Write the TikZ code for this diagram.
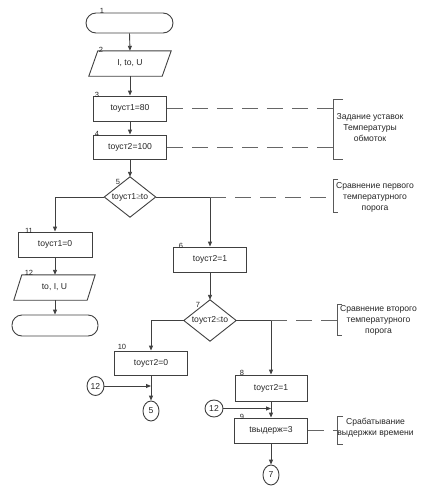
\documentclass[tikz,border=0pt]{standalone}
\usepackage{fontspec}
\setmainfont{Liberation Sans}
\usetikzlibrary{arrows.meta,calc,shapes.geometric}
\begin{document}
\begin{tikzpicture}[x=1pt,y=-1pt,
  every node/.style={font=\fontsize{8.6}{11}\selectfont, text=black!85},
  ln/.style={draw=black!75, line width=0.9pt},
  arr/.style={ln, -{Triangle[length=5pt,width=4pt]}},
  dsh/.style={draw=black!60, line width=0.9pt, dash pattern=on 16pt off 9pt},
  box/.style={ln, rectangle, inner sep=0pt, minimum width=73pt, minimum height=25pt},
  term/.style={ln, rectangle, rounded corners=10pt, inner sep=0pt, minimum width=87pt, minimum height=20pt},
  shp/.style={rectangle, inner sep=0pt},
  con/.style={ln, ellipse, inner sep=0pt, minimum width=17pt, minimum height=19pt},
  num/.style={font=\fontsize{7.5}{9}\selectfont, inner sep=0pt},
  note/.style={align=center, inner sep=0pt},
  brk/.style={draw=black!65, line width=0.9pt}
]
\useasboundingbox (0,0) rectangle (423,493);

% main column
\node[term] (t1) at (129.5,23) {};
\node[shp, minimum width=73pt, minimum height=25pt] (p2) at (130,63.5) {I, to, U};
\draw[ln] ($(p2.north west)+(4.5,0)$) -- ($(p2.north east)+(4.5,0)$) -- ($(p2.south east)+(-4.5,0)$) -- ($(p2.south west)+(-4.5,0)$) -- cycle;
\node[box] (b3) at (130,108.5) {toуст1=80};
\node[box, minimum height=24pt] (b4) at (130,147) {toуст2=100};
\node[shp, minimum width=51pt, minimum height=40pt] (d5) at (130,197) {toуст1{\color{black!45}≥}to};
\draw[ln] (d5.north) -- (d5.east) -- (d5.south) -- (d5.west) -- cycle;

% left column
\node[box, minimum width=74pt] (b11) at (55,244.5) {toуст1=0};
\node[shp, minimum width=73pt, minimum height=25pt] (p12) at (54.5,287.5) {to, I, U};
\draw[ln] ($(p12.north west)+(4,0)$) -- ($(p12.north east)+(4,0)$) -- ($(p12.south east)+(-4,0)$) -- ($(p12.south west)+(-4,0)$) -- cycle;
\node[term, minimum width=86pt, minimum height=21pt] (t2) at (55,325.5) {};

% right branch
\node[box] (b6) at (210,259.5) {toуст2=1};
\node[shp, minimum width=52pt, minimum height=41pt] (d7) at (210,320.5) {toуст2{\color{black!45}≤}to};
\draw[ln] (d7.north) -- (d7.east) -- (d7.south) -- (d7.west) -- cycle;
\node[box, minimum height=24pt] (b10) at (151,363) {toуст2=0};
\node[con] (c12a) at (95.5,386) {12};
\node[con, minimum width=16pt, minimum height=20pt] (c5) at (151,411) {5};
\node[box, minimum width=72pt, minimum height=26pt] (b8) at (271,388) {toуст2=1};
\node[con, minimum width=18pt, minimum height=17pt] (c12b) at (214,408.5) {12};
\node[box, minimum height=25pt] (b9) at (271,430.5) {tвыдерж=3};
\node[con, minimum width=16pt, minimum height=20pt] (c7) at (271,475) {7};

% numbers
\node[num] at (102,11) {1};
\node[num] at (101,50) {2};
\node[num] at (97,95) {3};
\node[num] at (97,134) {4};
\node[num] at (118,182) {5};
\node[num] at (29,231) {11};
\node[num] at (29,273) {12};
\node[num] at (181,246) {6};
\node[num] at (198,305) {7};
\node[num] at (122,347) {10};
\node[num] at (242,373) {8};
\node[num] at (242,417) {9};

% connectors
\draw[arr] (t1.south) -- (p2.north);
\draw[arr] (p2.south) -- (b3.north);
\draw[arr] (b3.south) -- (b4.north);
\draw[arr] (b4.south) -- (d5.north);
\draw[arr] (d5.west) -| (b11.north);
\draw[arr] (b11.south) -- (p12.north -| b11.south);
\draw[arr] (p12.south -| b11.south) -- (t2.north);
\draw[arr] (d5.east) -| (b6.north);
\draw[arr] (b6.south) -- (d7.north);
\draw[arr] (d7.west) -| (b10.north);
\draw[arr] (d7.east) -| (b8.north);
\draw[arr] (b10.south) -- (c5.north);
\draw[arr] (c12a.east) -- (c12a.east -| b10.south);
\draw[arr] (b8.south) -- (b9.north);
\draw[arr] (c12b.east) -- (c12b.east -| b8.south);
\draw[arr] (b9.south) -- (c7.north);

% notes and brackets
\coordinate (k1) at (333,99);
\coordinate (k2) at (333,179);
\coordinate (k3) at (337,304);
\coordinate (k4) at (337,416);
\draw[brk] (343,99) -- (k1) -- (333,159) -- (343,159);
\draw[brk] (338,179) -- (k2) -- (333,212) -- (338,212);
\draw[brk] (342,304) -- (k3) -- (337,335) -- (342,335);
\draw[brk] (343,416) -- (k4) -- (337,444) -- (343,444);
\node[note] (n1) at (370,128) {Задание уставок\\Температуры\\обмоток};
\node[note] (n2) at (375,197) {Сравнение первого\\температурного\\порога};
\node[note] (n3) at (378.5,320.5) {Сравнение второго\\температурного\\порога};
\node[note] (n4) at (375.5,428) {Срабатывание\\выдержки времени};

\draw[dsh] (b3.east) -- (b3.east -| k1);
\draw[dsh] (b4.east) -- (b4.east -| k1);
\draw[dsh] (d5.east -| b6.north) -- (d5.east -| k2);
\draw[dsh] (d7.east -| b8.north) -- (d7.east -| k3);
\draw[dsh] (b9.east) -- (b9.east -| k4);
\end{tikzpicture}
\end{document}
